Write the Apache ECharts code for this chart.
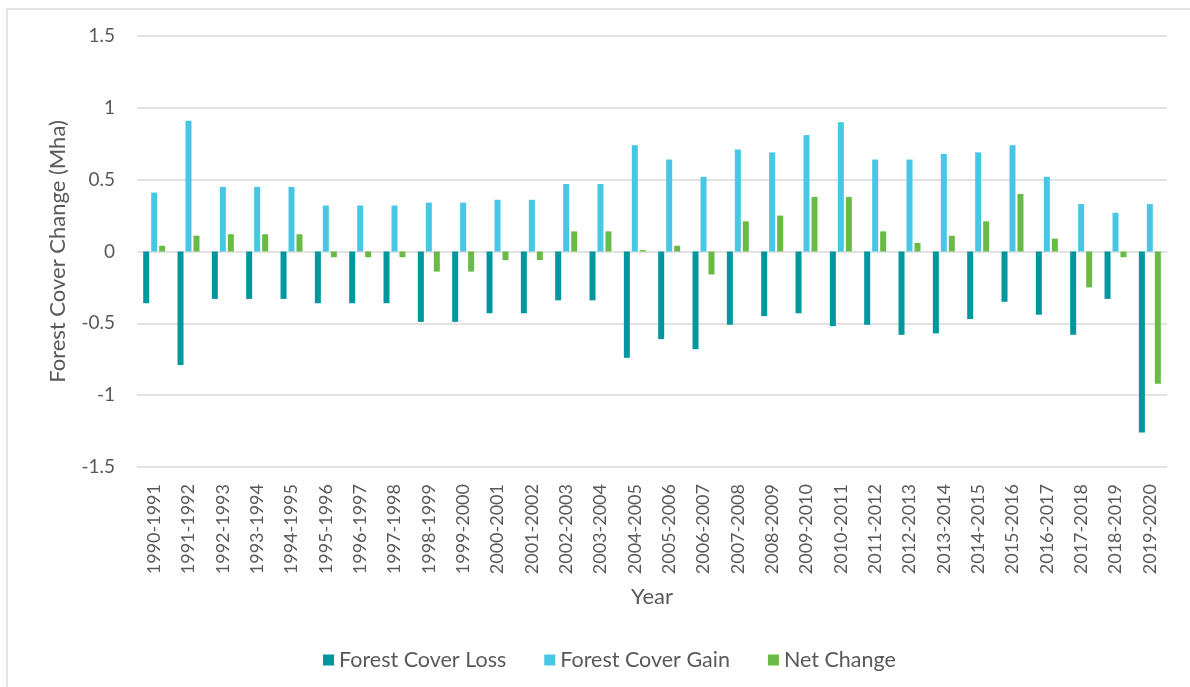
<!DOCTYPE html>
<html>
<head>
<meta charset="utf-8">
<script src="https://cdn.jsdelivr.net/npm/echarts@6/dist/echarts.min.js"></script>
<style>
  html, body { margin: 0; padding: 0; background: #ffffff; }
  #frame {
    position: absolute; left: 6px; top: 8px; width: 1190px; height: 687px;
    border-top: 2px solid #e3e3e3; border-left: 2px solid #e3e3e3;
    box-sizing: border-box;
  }
  #chart { position: absolute; left: 0; top: 0; width: 1190px; height: 687px; }
</style>
</head>
<body>
<div id="frame"></div>
<div id="chart"></div>
<script>
// Periods on the horizontal axis
const periods = [
  '1990-1991', '1991-1992', '1992-1993', '1993-1994', '1994-1995', '1995-1996',
  '1996-1997', '1997-1998', '1998-1999', '1999-2000', '2000-2001', '2001-2002',
  '2002-2003', '2003-2004', '2004-2005', '2005-2006', '2006-2007', '2007-2008',
  '2008-2009', '2009-2010', '2010-2011', '2011-2012', '2012-2013', '2013-2014',
  '2014-2015', '2015-2016', '2016-2017', '2017-2018', '2018-2019', '2019-2020'
];

// Forest cover loss (Mha), negative values
const coverLoss = [
  -0.36, -0.79, -0.33, -0.33, -0.33, -0.36, -0.36, -0.36, -0.49, -0.49,
  -0.43, -0.43, -0.34, -0.34, -0.74, -0.61, -0.68, -0.51, -0.45, -0.43,
  -0.52, -0.51, -0.58, -0.57, -0.47, -0.35, -0.44, -0.58, -0.33, -1.26
];

// Forest cover gain (Mha)
const coverGain = [
  0.41, 0.91, 0.45, 0.45, 0.45, 0.32, 0.32, 0.32, 0.34, 0.34,
  0.36, 0.36, 0.47, 0.47, 0.74, 0.64, 0.52, 0.71, 0.69, 0.81,
  0.90, 0.64, 0.64, 0.68, 0.69, 0.74, 0.52, 0.33, 0.27, 0.33
];

// Net change (Mha)
const netChange = [
  0.04, 0.11, 0.12, 0.12, 0.12, -0.04, -0.04, -0.04, -0.14, -0.14,
  -0.06, -0.06, 0.14, 0.14, 0.01, 0.04, -0.16, 0.21, 0.25, 0.38,
  0.38, 0.14, 0.06, 0.11, 0.21, 0.40, 0.09, -0.25, -0.04, -0.92
];

const seriesNames = ['Forest Cover Loss', 'Forest Cover Gain', 'Net Change'];
const seriesColors = ['#00979f', '#47c6e6', '#69bb45'];

const FONT = 'Lato, "Open Sans", sans-serif';
const TEXT = '#595959';

const chart = echarts.init(document.getElementById('chart'), null, { renderer: 'canvas' });

const makeBar = (name, data, color) => ({
  name: name,
  type: 'bar',
  data: data,
  barWidth: 6,
  barGap: '33%',
  itemStyle: { color: color },
  emphasis: { disabled: true }
});

chart.setOption({
  backgroundColor: 'transparent',
  animation: false,
  textStyle: { fontFamily: FONT, color: TEXT },
  grid: { left: 137, right: 23, top: 36, bottom: 220, containLabel: false },
  legend: {
    data: seriesNames,
    left: 318,
    top: 644,
    icon: 'rect',
    itemWidth: 11,
    itemHeight: 11,
    itemGap: 38,
    textStyle: { fontFamily: FONT, fontSize: 21.5, color: TEXT }
  },
  xAxis: {
    type: 'category',
    data: periods,
    name: 'Year',
    nameLocation: 'middle',
    nameGap: 119,
    nameTextStyle: { fontFamily: FONT, fontSize: 22, color: TEXT },
    axisLine: { show: false },
    axisTick: { show: false },
    axisLabel: {
      rotate: 90,
      interval: 0,
      margin: 17,
      fontFamily: FONT,
      fontSize: 18,
      color: TEXT
    },
    splitLine: { show: false }
  },
  yAxis: {
    type: 'value',
    min: -1.5,
    max: 1.5,
    interval: 0.5,
    name: 'Forest Cover Change (Mha)',
    nameLocation: 'middle',
    nameGap: 68,
    nameTextStyle: { fontFamily: FONT, fontSize: 22, color: TEXT },
    axisLine: { show: false },
    axisTick: { show: false },
    axisLabel: { margin: 22, fontFamily: FONT, fontSize: 19, color: TEXT },
    splitLine: { lineStyle: { color: '#d9d9d9', width: 1.5 } }
  },
  series: [
    makeBar(seriesNames[0], coverLoss, seriesColors[0]),
    makeBar(seriesNames[1], coverGain, seriesColors[1]),
    makeBar(seriesNames[2], netChange, seriesColors[2])
  ]
});
</script>
</body>
</html>
